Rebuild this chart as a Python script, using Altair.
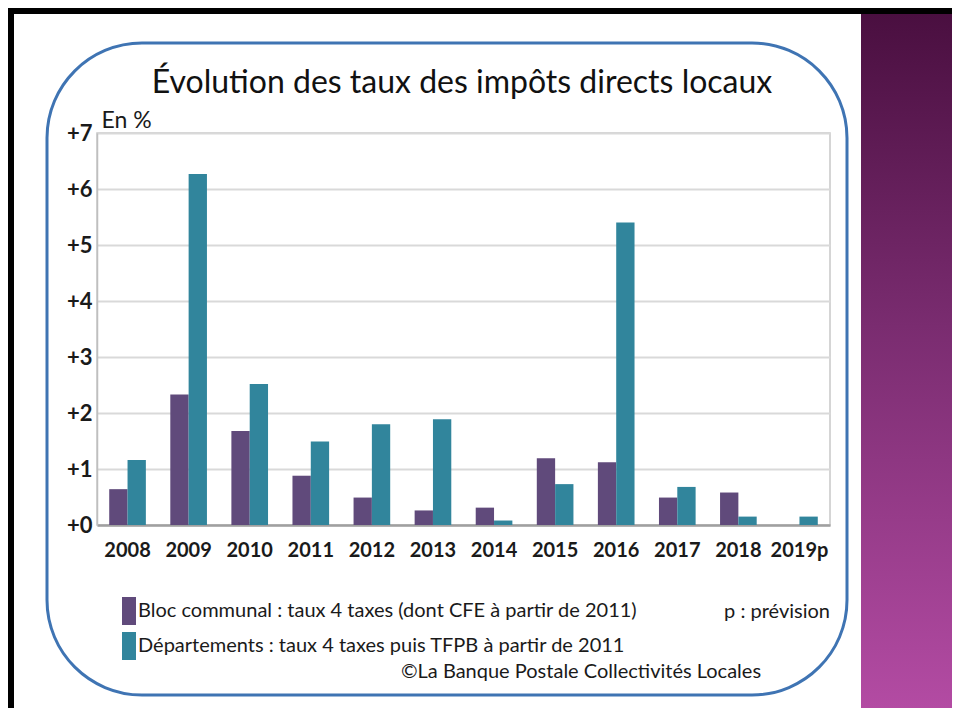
import altair as alt
import pandas as pd

years = ["2008", "2009", "2010", "2011", "2012", "2013", "2014", "2015", "2016", "2017", "2018", "2019p"]
bloc_communal = [0.64, 2.33, 1.68, 0.88, 0.49, 0.26, 0.31, 1.19, 1.12, 0.49, 0.58, 0.0]
departements = [1.16, 6.27, 2.52, 1.49, 1.80, 1.89, 0.08, 0.73, 5.40, 0.68, 0.15, 0.15]
series_names = [
    "Bloc communal : taux 4 taxes (dont CFE à partir de 2011)",
    "Départements : taux 4 taxes puis TFPB à partir de 2011",
]
series_colors = ["#604A7B", "#31859C"]
y_ticks = [0, 1, 2, 3, 4, 5, 6, 7]
title_text = "Évolution des taux des impôts directs locaux"
unit_text = "En %"
note_text = "p : prévision"
source_text = "©La Banque Postale Collectivités Locales"

rows = []
for i, yr in enumerate(years):
    rows.append({"annee": yr, "serie": series_names[0], "valeur": bloc_communal[i]})
    rows.append({"annee": yr, "serie": series_names[1], "valeur": departements[i]})
df = pd.DataFrame(rows)

FONT = "Lato"
W, H = 733, 392
one = alt.Data(values=[{}])

def deco_rect(x, x2, y, y2, **kw):
    return alt.Chart(one).mark_rect(**kw).encode(
        x=alt.value(x), x2=alt.value(x2), y=alt.value(y), y2=alt.value(y2)
    )

purple = deco_rect(
    764, 855, -119, 575,
    fill=alt.LinearGradient(
        gradient="linear",
        stops=[
            alt.GradientStop(color="#4a0f40", offset=0),
            alt.GradientStop(color="#7a2c70", offset=0.45),
            alt.GradientStop(color="#b34ba3", offset=1),
        ],
        x1=0, x2=0, y1=0, y2=1,
    ),
)
black_top = deco_rect(-89, 855, -125, -119, fill="#000000")
black_left = deco_rect(-89, -83, -125, 575, fill="#000000")
frame = deco_rect(-50, 750, -90, 562, filled=False, stroke="#3f74b3",
                  strokeWidth=3, cornerRadius=95)

bars = alt.Chart(df).mark_bar().encode(
    x=alt.X("annee:N", sort=years, title=None,
            scale=alt.Scale(paddingInner=0.4, paddingOuter=0.2),
            axis=alt.Axis(labelAngle=0, ticks=False, domainColor="#a0a0a0",
                          domainWidth=2.5, labelFont=FONT, labelFontWeight="bold",
                          labelFontSize=20, labelColor="#1a1a1a", labelPadding=15,
                          grid=False)),
    xOffset=alt.XOffset("serie:N", sort=series_names),
    y=alt.Y("valeur:Q", scale=alt.Scale(domain=[0, 7], nice=False),
            axis=alt.Axis(values=y_ticks, labelExpr="'+' + datum.label",
                          ticks=False, domainColor="#bfbfbf", domainWidth=1.5,
                          gridColor="#d9d9d9", gridWidth=2,
                          labelFont=FONT, labelFontWeight="bold", labelFontSize=22,
                          labelColor="#1a1a1a", labelPadding=5,
                          title=unit_text, titleAngle=0, titleAlign="left",
                          titleBaseline="alphabetic", titleX=4, titleY=-6,
                          titleFont=FONT, titleFontWeight="normal",
                          titleFontSize=23, titleColor="#1a1a1a")),
    color=alt.Color("serie:N", sort=series_names,
                    scale=alt.Scale(domain=series_names, range=series_colors),
                    legend=alt.Legend(title=None, orient="none", legendX=11, legendY=464,
                                      direction="vertical",
                                      symbolType="M0,-1H1V1H0Z", symbolSize=784,
                                      symbolStrokeWidth=0, symbolOpacity=1,
                                      labelFont=FONT, labelFontSize=20,
                                      labelColor="#1a1a1a", labelOffset=2,
                                      labelLimit=800, rowPadding=7, padding=0)),
)

title = alt.Chart(one).mark_text(
    text=title_text, font=FONT, fontSize=32, color="#111111",
    align="center", baseline="alphabetic"
).encode(x=alt.value(365), y=alt.value(-40))

note = alt.Chart(one).mark_text(
    text=note_text, font=FONT, fontSize=20, color="#1a1a1a",
    align="right", baseline="alphabetic"
).encode(x=alt.value(733), y=alt.value(485))

source = alt.Chart(one).mark_text(
    text=source_text, font=FONT, fontSize=20, color="#1a1a1a",
    align="center", baseline="alphabetic"
).encode(x=alt.value(484), y=alt.value(545))

chart = alt.layer(
    purple, black_top, black_left, frame, bars, title, note, source
).properties(
    width=W, height=H,
    autosize=alt.AutoSizeParams(type="none"),
    padding={"left": 89, "top": 125, "right": 122, "bottom": 183},
    background="white",
).configure_view(stroke="#c8c8c8", strokeWidth=1.5)

chart.save("out.html", embed_options={"renderer": "svg", "actions": False})
